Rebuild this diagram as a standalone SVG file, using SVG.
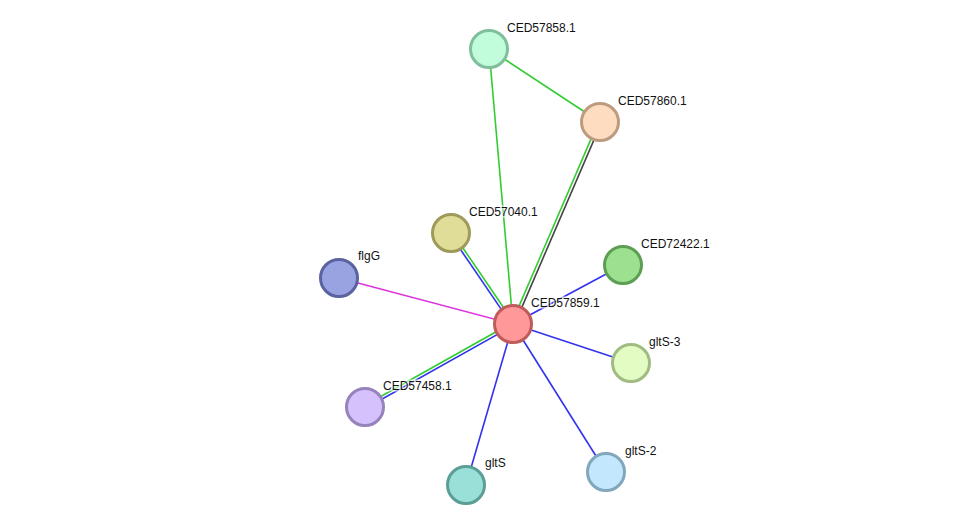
<svg xmlns="http://www.w3.org/2000/svg" width="975" height="530" viewBox="0 0 975 530">
<style>
.e{stroke-width:1.6;fill:none}
.g{stroke:#33cc33}
.b{stroke:#3333ee}
.k{stroke:#444444}
.m{stroke:#dd33dd}
.n{stroke-width:3}
text{font-family:"Liberation Sans",Arial,sans-serif;font-size:12px;fill:#111;stroke:#fff;stroke-width:3px;stroke-opacity:0.6;paint-order:stroke}
</style>
<rect width="975" height="530" fill="#fff"/>
<g id="edges">
<line class="e g" x1="489" y1="49" x2="600" y2="122"/>
<line class="e g" x1="489" y1="49" x2="513" y2="324"/>
<line class="e g" x1="598.6" y1="121.4" x2="511.6" y2="323.4"/>
<line class="e k" x1="601.4" y1="122.6" x2="514.4" y2="324.6"/>
<line class="e g" x1="452.2" y1="232.2" x2="514.2" y2="323.2"/>
<line class="e b" x1="449.8" y1="233.8" x2="511.8" y2="324.8"/>
<line class="e m" x1="339" y1="278" x2="513" y2="324"/>
<line class="e b" x1="623" y1="265" x2="513" y2="324"/>
<line class="e b" x1="631" y1="363" x2="513" y2="324"/>
<line class="e g" x1="364.3" y1="405.7" x2="512.3" y2="322.7"/>
<line class="e b" x1="365.7" y1="408.3" x2="513.7" y2="325.3"/>
<line class="e b" x1="466" y1="485" x2="513" y2="324"/>
<line class="e b" x1="606" y1="472" x2="513" y2="324"/>
</g>
<g id="CED57858.1"><circle class="n" cx="489" cy="49" r="18.5" fill="#c1fcdb" stroke="#7fbf9b"/><text x="507" y="32">CED57858.1</text></g>
<g id="CED57860.1"><circle class="n" cx="600" cy="122" r="18.5" fill="#fddcc0" stroke="#bc9b7e"/><text x="618" y="105">CED57860.1</text></g>
<g id="CED57040.1"><circle class="n" cx="451" cy="233" r="18.5" fill="#e0dd98" stroke="#9d9a5a"/><text x="469" y="216">CED57040.1</text></g>
<g id="flgG"><circle class="n" cx="339" cy="278" r="18.5" fill="#9aa3e2" stroke="#5a62a0"/><text x="358" y="260">flgG</text></g>
<g id="CED72422.1"><circle class="n" cx="623" cy="265" r="18.5" fill="#9de090" stroke="#5c9e52"/><text x="641" y="248">CED72422.1</text></g>
<g id="CED57859.1"><circle class="n" cx="513" cy="324" r="18.5" fill="#ff9999" stroke="#c05b5b"/><text x="531" y="307">CED57859.1</text></g>
<g id="gltS-3"><circle class="n" cx="631" cy="363" r="18.5" fill="#e2fcc4" stroke="#a0bc82"/><text x="649" y="346">gltS-3</text></g>
<g id="CED57458.1"><circle class="n" cx="365" cy="407" r="18.5" fill="#d5c2fc" stroke="#9683bb"/><text x="383" y="390">CED57458.1</text></g>
<g id="gltS"><circle class="n" cx="466" cy="485" r="18.5" fill="#9be0d8" stroke="#5a9e96"/><text x="485" y="467">gltS</text></g>
<g id="gltS-2"><circle class="n" cx="606" cy="472" r="18.5" fill="#c3e7fc" stroke="#82a6bc"/><text x="625" y="455">gltS-2</text></g>
</svg>
